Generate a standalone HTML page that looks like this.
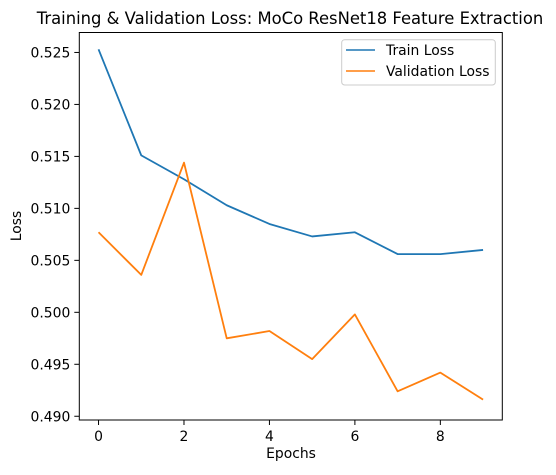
<!DOCTYPE html>
<html><head><meta charset="utf-8"><style>
body{margin:0;background:#fff;font-family:"Liberation Sans","DejaVu Sans",sans-serif}
svg text{font-family:"DejaVu Sans","Liberation Sans",sans-serif;fill:#000}
</style></head><body>
<svg id="c" width="556" height="470">
<text x="290" y="24" font-size="16.4" text-anchor="middle">Training &amp; Validation Loss: MoCo ResNet18 Feature Extraction</text>
<g id="plot"></g>
<rect x="79.3" y="32.5" width="423" height="387.5" fill="none" stroke="#000" stroke-width="1"/>
<text x="291" y="458" font-size="13.9" text-anchor="middle">Epochs</text>
<text transform="translate(21,226) rotate(-90)" font-size="13.9" text-anchor="middle">Loss</text>
<g>
<rect x="341.7" y="39.7" width="153.6" height="45.3" rx="3" fill="#fff" stroke="#ccc"/>
<line x1="346" y1="50" x2="375" y2="50" stroke="#1f77b4" stroke-width="1.5"/>
<text x="386" y="55" font-size="13.9">Train Loss</text>
<line x1="346" y1="71" x2="375" y2="71" stroke="#ff7f0e" stroke-width="1.5"/>
<text x="386" y="76" font-size="13.9">Validation Loss</text>
</g>
</svg>
<script>
const epochs=[0,1,2,3,4,5,6,7,8,9];
const trainLoss=[0.5253,0.5151,0.5128,0.5103,0.5085,0.5073,0.5077,0.5056,0.5056,0.5060];
const valLoss=[0.5077,0.5036,0.5144,0.4975,0.4982,0.4955,0.4998,0.4924,0.4942,0.4916];
const xTicks=[0,2,4,6,8];
const yTicks=[0.490,0.495,0.500,0.505,0.510,0.515,0.520,0.525];
const L=79.3,R=502.3,T=32.5,B=420;
const x0=-0.45,x1=9.45,y0=0.48964,y1=0.52692;
const sx=v=>L+(v-x0)/(x1-x0)*(R-L);
const sy=v=>B-(v-y0)/(y1-y0)*(B-T);
const NS="http://www.w3.org/2000/svg";
const g=document.getElementById('plot');
function mk(t,a){const e=document.createElementNS(NS,t);for(const k in a)e.setAttribute(k,a[k]);g.appendChild(e);return e;}
xTicks.forEach(v=>{
 const l=mk('line',{x1:sx(v),x2:sx(v),y1:B,y2:B+5,stroke:'#000'});
 
 
 const t=mk('text',{x:sx(v),y:B+21,'font-size':13.9,'text-anchor':'middle'});t.textContent=v;
 
 
});
yTicks.forEach(v=>{
 const l=mk('line',{x1:L-5,x2:L,y1:sy(v),y2:sy(v),stroke:'#000'});
 
 
 const t=mk('text',{x:L-9,y:sy(v)+5,'font-size':13.9,'text-anchor':'end'});t.textContent=v.toFixed(3);
 
 
});
function line(vals,color,name){
 const p=mk('polyline',{points:vals.map((v,i)=>sx(epochs[i])+','+sy(v)).join(' '),fill:'none',stroke:color,'stroke-width':1.8,'stroke-linejoin':'round'});
 
 
}
line(trainLoss,'#1f77b4','train-loss-line');
line(valLoss,'#ff7f0e','validation-loss-line');
</script>
</body></html>
